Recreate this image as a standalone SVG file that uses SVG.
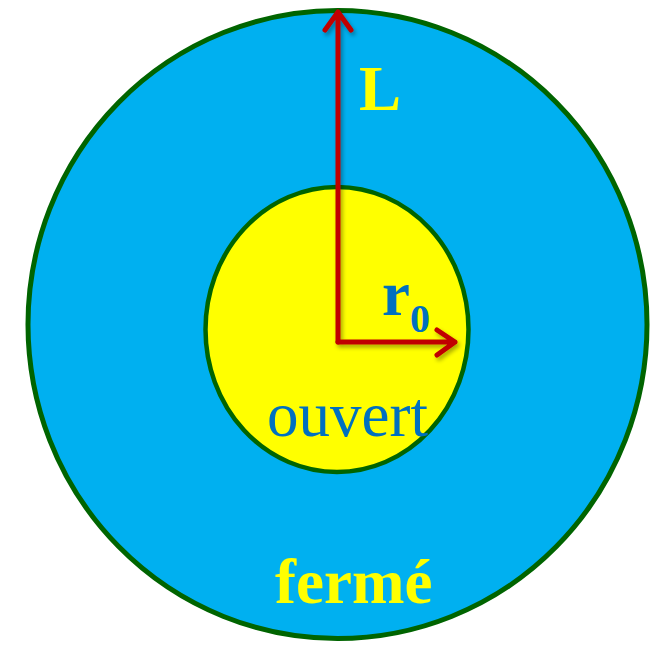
<svg xmlns="http://www.w3.org/2000/svg" width="661" height="645" viewBox="0 0 661 645">
<style>
.bord{stroke:#006400;}
.arr{stroke:#C00000;stroke-width:5;fill:none;stroke-linecap:round;stroke-linejoin:round;}
.t{font-family:"Liberation Serif","Times New Roman",serif;font-size:63px;}
</style>
<defs>
<filter id="sh" x="-20%" y="-20%" width="140%" height="140%">
<feGaussianBlur in="SourceAlpha" stdDeviation="2"/>
<feOffset dx="2" dy="3"/>
<feComponentTransfer><feFuncA type="linear" slope="0.35"/></feComponentTransfer>
<feMerge><feMergeNode/><feMergeNode in="SourceGraphic"/></feMerge>
</filter>
</defs>
<rect width="661" height="645" fill="#ffffff"/>
<g id="outer">
<ellipse class="bord" cx="337.5" cy="324.5" rx="309.5" ry="314" fill="#00B0F0" stroke-width="5"/>
<text class="t" x="275" y="603" font-weight="bold" fill="#FFFF00">fermé</text>
</g>
<g id="inner">
<ellipse class="bord" cx="337" cy="329.5" rx="131.5" ry="142.5" fill="#FFFF00" stroke-width="4.5"/>
<text class="t" x="267" y="436" fill="#0070C0">ouvert</text>
</g>
<g id="connectors" filter="url(#sh)">
<path class="arr" d="M338 342 V12 M325 30 L338 12 L351 30"/>
<path class="arr" d="M338 342 H455 M437 330 L455 342 L437 355"/>
</g>
<g id="labels">
<text class="t" x="359" y="110" font-weight="bold" fill="#FFFF00">L</text>
<text class="t" x="382" y="315" font-weight="bold" fill="#0070C0">r<tspan font-size="40" dy="17">0</tspan></text>
</g>
</svg>
